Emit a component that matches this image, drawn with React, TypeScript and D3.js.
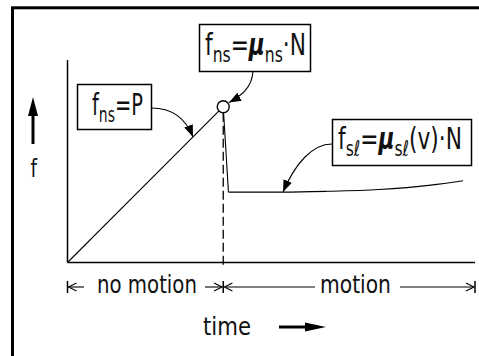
import React, { useEffect, useRef } from 'react';
import * as d3 from 'd3';

// friction force f against time: static part, peak, then sliding part
const staticTime = [0, 3];
const staticForce = [0, 1];
const slideTime = [3.1, 4.15, 5.0, 6.0, 7.0, 7.62];
const slideForce = [0.452, 0.452, 0.457, 0.469, 0.497, 0.525];
const peakTime = 3;
const peakForce = 1;
const timeDomain = [0, 7.85];
const forceDomain = [0, 1.3];

const phaseLabels = ['no motion', 'motion'];
const axisLabels = ['f', 'time'];

type Part = [string, 'n' | 'sub' | 'mu'];
const labelStatic: Part[] = [['f', 'n'], ['ns', 'sub'], ['=P', 'n']];
const labelPeak: Part[] = [['f', 'n'], ['ns', 'sub'], ['=', 'n'], ['\u03bc', 'mu'], ['ns', 'sub'], ['\u00b7N', 'n']];
const labelSlide: Part[] = [['f', 'n'], ['s\u2113', 'sub'], ['=', 'n'], ['\u03bc', 'mu'], ['s\u2113', 'sub'], ['(v)\u00b7N', 'n']];

export default function App() {
    const ref = useRef<SVGSVGElement>(null);

    useEffect(() => {
        const svg = d3.select(ref.current);
        svg.selectAll('*').remove();

        const font = '"DejaVu Sans Condensed", "DejaVu Sans", sans-serif';
        const x = d3.scaleLinear().domain(timeDomain).range([67.5, 475]);
        const y = d3.scaleLinear().domain(forceDomain).range([262.5, 60]);

        const defs = svg.append('defs');
        defs.append('marker')
            .attr('id', 'head')
            .attr('viewBox', '0 0 10 10')
            .attr('refX', 10)
            .attr('refY', 5)
            .attr('markerWidth', 12)
            .attr('markerHeight', 12)
            .attr('markerUnits', 'userSpaceOnUse')
            .attr('orient', 'auto')
            .append('path')
            .attr('d', 'M0,1.2 L10,5 L0,8.8 Z')
            .attr('fill', '#000');

        // outer frame (only top and left edges fall inside the picture)
        svg.append('rect')
            .attr('x', 12.5).attr('y', 7.8)
            .attr('width', 600).attr('height', 500)
            .attr('fill', 'none').attr('stroke', '#000').attr('stroke-width', 3);

        // axes
        svg.append('line')
            .attr('x1', x(0)).attr('x2', x(0))
            .attr('y1', y(forceDomain[1])).attr('y2', y(0))
            .attr('stroke', '#000').attr('stroke-width', 1.5);
        svg.append('line')
            .attr('x1', x(0)).attr('x2', x(timeDomain[1]))
            .attr('y1', y(0)).attr('y2', y(0))
            .attr('stroke', '#000').attr('stroke-width', 1.5);

        // dashed line at the breakaway point
        svg.append('line')
            .attr('x1', x(peakTime)).attr('x2', x(peakTime))
            .attr('y1', y(peakForce) + 6).attr('y2', y(0) + 4)
            .attr('stroke', '#000').attr('stroke-width', 1.3)
            .attr('stroke-dasharray', '9,4');

        const line = d3.line<[number, number]>().x((d) => x(d[0])).y((d) => y(d[1]));
        const staticPts = staticTime.map((t, i) => [t, staticForce[i]] as [number, number]);
        const slidePts = slideTime.map((t, i) => [t, slideForce[i]] as [number, number]);

        svg.append('path')
            .attr('d', line(staticPts))
            .attr('fill', 'none').attr('stroke', '#000').attr('stroke-width', 1.1);
        svg.append('path')
            .attr('d', line([[peakTime, peakForce], slidePts[0]]))
            .attr('fill', 'none').attr('stroke', '#000').attr('stroke-width', 1.1);
        svg.append('path')
            .attr('d', line.curve(d3.curveMonotoneX)(slidePts))
            .attr('fill', 'none').attr('stroke', '#000').attr('stroke-width', 1.1);

        svg.append('circle')
            .attr('cx', x(peakTime)).attr('cy', y(peakForce)).attr('r', 6)
            .attr('fill', '#fff').attr('stroke', '#000').attr('stroke-width', 1.4);

        // text helper: draws rich text and squeezes it to the wanted width
        const addText = (parts: Part[], size: number, x0: number, base: number, width: number) => {
            const t = svg.append('text')
                .attr('font-family', font)
                .attr('font-size', size)
                .attr('fill', '#111');
            let shifted = 0;
            parts.forEach(([s, kind]) => {
                const sp = t.append('tspan').text(s);
                const want = kind === 'sub' ? size * 0.22 : 0;
                sp.attr('dy', want - shifted);
                shifted = want;
                if (kind === 'sub') sp.attr('font-size', size * 0.72);
                if (kind === 'mu') sp.attr('font-style', 'italic').attr('font-weight', 'bold');
            });
            const w = (t.node() as SVGTextElement).getComputedTextLength();
            t.attr('transform', `translate(${x0},${base}) scale(${width / w},1)`);
        };

        // callout boxes
        const boxes = [
            { x: 77.5, y: 84.5, w: 74, h: 45 },
            { x: 199.5, y: 24.5, w: 111, h: 47 },
            { x: 332.5, y: 119.5, w: 139, h: 46 },
        ];
        boxes.forEach((b) => {
            svg.append('rect')
                .attr('x', b.x).attr('y', b.y).attr('width', b.w).attr('height', b.h)
                .attr('fill', '#fff').attr('stroke', '#000').attr('stroke-width', 1.5);
        });
        addText(labelStatic, 30, 92, 115, 51);
        addText(labelPeak, 30, 205, 55, 101);
        addText(labelSlide, 30, 338, 149, 124);

        // callout arrows
        const callouts = [
            'M151.5,108 C175,108 187,122 193,137',
            'M253,71 C252,88 241,96 229,102.5',
            'M332,144 C312,144 295,164 283,192',
        ];
        callouts.forEach((d) => {
            svg.append('path')
                .attr('d', d)
                .attr('fill', 'none').attr('stroke', '#000').attr('stroke-width', 1.1)
                .attr('marker-end', 'url(#head)');
        });

        // force axis label and arrow
        addText([[axisLabels[0], 'n']], 24, 30.5, 176.5, 6.5);
        svg.append('line')
            .attr('x1', 33).attr('x2', 33).attr('y1', 144).attr('y2', 114)
            .attr('stroke', '#000').attr('stroke-width', 3);
        svg.append('path').attr('d', 'M28,116 L33,97 L38,116 Z').attr('fill', '#000');

        // time label and arrow
        addText([[axisLabels[1], 'n']], 24, 203, 335, 48);
        svg.append('line')
            .attr('x1', 279).attr('x2', 308).attr('y1', 327).attr('y2', 327)
            .attr('stroke', '#000').attr('stroke-width', 3);
        svg.append('path').attr('d', 'M305,322.5 L326,327 L305,331.5 Z').attr('fill', '#000');

        // dimension lines for the two phases
        const dimY = 287;
        const x0 = x(0), xp = x(peakTime), xe = x(timeDomain[1]);
        const dim = svg.append('g').attr('fill', 'none').attr('stroke', '#000').attr('stroke-width', 1.1);
        [x0, xp, xe].forEach((xx) => {
            dim.append('line').attr('x1', xx).attr('x2', xx).attr('y1', dimY - 6).attr('y2', dimY + 6).attr('stroke-width', 1.5);
        });
        const chevron = (tip: number, dir: number) =>
            `M${tip - dir * 8},${dimY - 4} L${tip},${dimY} L${tip - dir * 8},${dimY + 4}`;
        dim.append('line').attr('x1', x0 + 1).attr('x2', 84).attr('y1', dimY).attr('y2', dimY);
        dim.append('path').attr('d', chevron(x0 + 1, -1));
        dim.append('line').attr('x1', 205).attr('x2', xp - 1.2).attr('y1', dimY).attr('y2', dimY);
        dim.append('path').attr('d', chevron(xp - 1.2, 1));
        dim.append('line').attr('x1', xp + 1.2).attr('x2', 315).attr('y1', dimY).attr('y2', dimY);
        dim.append('path').attr('d', chevron(xp + 1.2, -1));
        dim.append('line').attr('x1', 400).attr('x2', xe - 1).attr('y1', dimY).attr('y2', dimY);
        dim.append('path').attr('d', chevron(xe - 1, 1));

        addText([[phaseLabels[0], 'n']], 24, 97, 292.5, 100);
        addText([[phaseLabels[1], 'n']], 24, 320, 292.5, 71);
    }, []);

    return (
        <svg
            ref={ref}
            width={479}
            height={356}
            style={{ position: 'absolute', left: 0, top: 0, background: '#fff' }}
        />
    );
}
